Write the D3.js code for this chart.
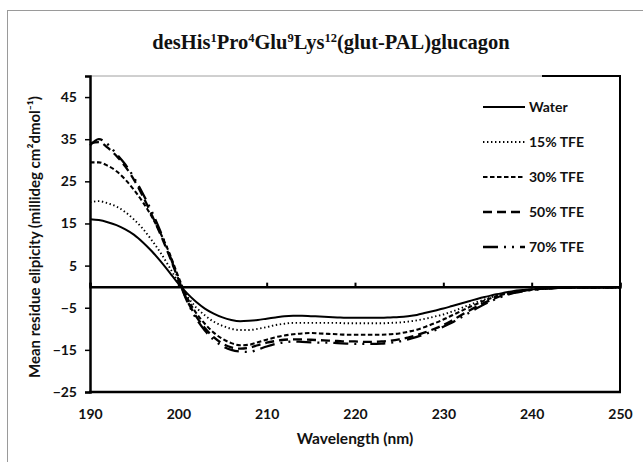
<!DOCTYPE html>
<html>
<head>
<meta charset="utf-8">
<script src="https://cdn.jsdelivr.net/npm/d3@7"></script>
<style>
  body { margin: 0; background: #fff; }
  text { font-family: Lato, "Open Sans", sans-serif; font-weight: bold; }
</style>
</head>
<body>
<script>
const width = 643
const height = 462

// wavelength (nm), 1 nm steps
const wavelength = d3.range(190, 251)

const water = [16.0, 15.8, 15.3, 14.6, 13.6, 12.3, 10.5, 8.4, 6.0, 3.4,
  0.7, -1.6, -3.6, -5.2, -6.4, -7.3, -7.9, -8.2, -8.1, -7.9,
  -7.6, -7.3, -7.0, -6.9, -6.9, -7.0, -7.1, -7.2, -7.3, -7.4,
  -7.4, -7.4, -7.4, -7.4, -7.3, -7.2, -7.0, -6.7, -6.2, -5.7,
  -5.2, -4.6, -4.0, -3.4, -2.8, -2.3, -1.8, -1.4, -1.0, -0.8,
  -0.6, -0.5, -0.4, -0.3, -0.3, -0.2, -0.2, -0.2, -0.2, -0.2, -0.2]

const tfe15 = [20.0, 20.3, 19.8, 19.0, 17.7, 15.9, 13.7, 11.0, 8.0, 4.6,
  1.0, -2.3, -4.9, -6.8, -8.3, -9.3, -10.0, -10.3, -10.3, -10.0,
  -9.6, -9.1, -8.8, -8.6, -8.6, -8.6, -8.6, -8.6, -8.6, -8.7,
  -8.7, -8.7, -8.7, -8.7, -8.6, -8.5, -8.3, -8.0, -7.6, -7.1,
  -6.6, -5.9, -5.1, -4.3, -3.5, -2.8, -2.1, -1.6, -1.2, -0.9,
  -0.7, -0.5, -0.4, -0.3, -0.3, -0.2, -0.2, -0.2, -0.2, -0.2, -0.2]

const tfe30 = [29.5, 29.5, 28.7, 27.4, 25.4, 22.9, 20.0, 16.6, 12.6, 7.9,
  2.4, -2.6, -6.2, -8.8, -10.9, -12.4, -13.4, -13.9, -13.8, -13.2,
  -12.6, -12.0, -11.6, -11.3, -11.1, -11.0, -11.1, -11.2, -11.3, -11.4,
  -11.4, -11.4, -11.4, -11.4, -11.3, -11.1, -10.7, -10.2, -9.5, -8.7,
  -7.8, -6.8, -5.8, -4.8, -3.9, -3.0, -2.3, -1.7, -1.3, -1.0,
  -0.7, -0.5, -0.4, -0.3, -0.3, -0.2, -0.2, -0.2, -0.2, -0.2, -0.2]

const tfe50 = [34.0, 34.3, 33.0, 31.0, 28.5, 25.3, 21.4, 17.0, 12.3, 7.2,
  1.8, -3.3, -7.0, -9.8, -12.0, -13.5, -14.4, -14.7, -14.5, -13.9,
  -13.3, -12.9, -12.6, -12.5, -12.5, -12.6, -12.7, -12.8, -12.9, -13.0,
  -13.0, -13.1, -13.1, -13.0, -12.8, -12.5, -12.1, -11.5, -10.8, -10.0,
  -9.1, -8.0, -6.8, -5.6, -4.5, -3.5, -2.6, -1.9, -1.4, -1.0,
  -0.7, -0.5, -0.4, -0.3, -0.3, -0.2, -0.2, -0.2, -0.2, -0.2, -0.2]

const tfe70 = [33.5, 35.0, 33.8, 31.5, 29.0, 25.8, 22.0, 17.8, 13.0, 7.6,
  1.8, -3.5, -7.5, -10.4, -12.6, -14.1, -15.0, -15.4, -15.5, -14.9,
  -14.2, -13.6, -13.2, -13.0, -13.1, -13.2, -13.3, -13.3, -13.4, -13.5,
  -13.6, -13.6, -13.6, -13.5, -13.3, -13.0, -12.5, -11.9, -11.2, -10.4,
  -9.5, -8.5, -7.3, -6.1, -4.9, -3.8, -2.9, -2.1, -1.5, -1.1,
  -0.8, -0.6, -0.4, -0.3, -0.3, -0.2, -0.2, -0.2, -0.2, -0.2, -0.2]

const seriesNames = ['Water', '15% TFE', '30% TFE', '50% TFE', '70% TFE']
const seriesValues = [water, tfe15, tfe30, tfe50, tfe70]
const xTicks = [190, 200, 210, 220, 230, 240, 250]
const yTicks = [-25, -15, -5, 5, 15, 25, 35, 45]

const dashes = [null, '1.4 2.6', '4.5 2.5', '9 5', '15 6 2 6 2 6']
const widths = [2, 1.9, 2.1, 2.3, 2.3]

const margin = { left: 90, right: 22, top: 76, bottom: 70 }

const svg = d3.select('body').append('svg')
    .attr('width', width)
    .attr('height', height)

// outer chart border (cropped at right / bottom)
svg.append('rect')
    .attr('x', 7.5).attr('y', 10.5)
    .attr('width', 700).attr('height', 500)
    .attr('fill', 'none')
    .attr('stroke', '#9a9a9a')
    .attr('stroke-width', 1)

const x = d3.scaleLinear()
    .domain([190, 250])
    .range([margin.left, width - margin.right - 1])

const y = d3.scaleLinear()
    .domain([-25, 50])
    .range([height - margin.bottom, margin.top])

// title
const title = svg.append('text')
    .attr('x', 331).attr('y', 49)
    .attr('text-anchor', 'middle')
    .attr('fill', '#111')
    .style('font-family', '"Liberation Serif", "Times New Roman", serif')
    .style('font-size', '20.5px')
const parts = [['desHis', false], ['1', true], ['Pro', false], ['4', true], ['Glu', false],
  ['9', true], ['Lys', false], ['12', true], ['(glut-PAL)glucagon', false]]
parts.forEach(([t, sup], i) => {
    const prevSup = i > 0 && parts[i - 1][1]
    title.append('tspan')
        .attr('dy', sup ? -7 : (prevSup ? 7 : 0))
        .style('font-size', sup ? '12.5px' : '20.5px')
        .text(t)
})

// plot frame
const x0 = x(190), x1 = x(250), yTop = y(50), yBot = y(-25)
svg.append('line')
    .attr('x1', x0).attr('x2', x1).attr('y1', yTop).attr('y2', yTop)
    .attr('stroke', '#a0a0a0').attr('stroke-width', 1)
svg.append('line')
    .attr('x1', 542).attr('x2', x1 + 1).attr('y1', yTop).attr('y2', yTop)
    .attr('stroke', '#000').attr('stroke-width', 2)
svg.append('line')
    .attr('x1', x1).attr('x2', x1).attr('y1', yTop).attr('y2', yBot)
    .attr('stroke', '#000').attr('stroke-width', 2)
svg.append('line')
    .attr('x1', x0 - 1).attr('x2', x1 + 1).attr('y1', yBot).attr('y2', yBot)
    .attr('stroke', '#000').attr('stroke-width', 2.5)

// y axis
const yAxis = svg.append('g')
    .attr('transform', `translate(${x0},0)`)
    .call(d3.axisLeft(y).tickValues(yTicks).tickSize(5).tickPadding(8))
yAxis.select('.domain').attr('stroke-width', 2.5)
yAxis.selectAll('.tick line').attr('stroke-width', 1.5)
yAxis.selectAll('text').style('font-size', '14px').attr('fill', '#111')

// zero line with upward ticks
const zAxis = svg.append('g')
    .attr('transform', `translate(0,${y(0)})`)
    .call(d3.axisTop(x).tickValues(xTicks).tickSize(4).tickFormat(''))
zAxis.select('.domain').attr('stroke-width', 2.5)
zAxis.selectAll('.tick line').attr('stroke-width', 2)

// x tick labels at the bottom
const xAxis = svg.append('g')
    .attr('transform', `translate(0,${yBot})`)
    .call(d3.axisBottom(x).tickValues(xTicks).tickSize(0).tickPadding(17))
xAxis.select('.domain').remove()
xAxis.selectAll('text').style('font-size', '14px').attr('fill', '#111')

// axis titles
svg.append('text')
    .attr('x', (x0 + x1) / 2).attr('y', 444)
    .attr('text-anchor', 'middle')
    .style('font-size', '15.5px')
    .attr('fill', '#111')
    .text('Wavelength (nm)')

svg.append('text')
    .attr('transform', `translate(40,${(yTop + yBot) / 2 + 3}) rotate(-90)`)
    .attr('text-anchor', 'middle')
    .style('font-size', '15px')
    .attr('fill', '#111')
    .text('Mean residue elipicity (millideg cm²dmol⁻¹)')

// curves
const line = d3.line()
    .x((d, i) => x(wavelength[i]))
    .y(d => y(d))
    .curve(d3.curveMonotoneX)

svg.selectAll('path.series')
    .data(seriesValues)
    .enter()
    .append('path')
    .attr('class', 'series')
    .attr('d', d => line(d))
    .attr('fill', 'none')
    .attr('stroke', '#000')
    .attr('stroke-width', (d, i) => widths[i])
    .attr('stroke-dasharray', (d, i) => dashes[i])

// legend
const legend = svg.selectAll('g.legend')
    .data(seriesNames)
    .enter()
    .append('g')
    .attr('class', 'legend')
    .attr('transform', (d, i) => `translate(483,${107 + i * 35})`)

legend.append('line')
    .attr('x1', 0).attr('x2', 42)
    .attr('stroke', '#000')
    .attr('stroke-width', (d, i) => widths[i])
    .attr('stroke-dasharray', (d, i) => dashes[i])

legend.append('text')
    .attr('x', 46).attr('dy', '0.35em')
    .style('font-size', '14px')
    .attr('fill', '#111')
    .text(d => d)
</script>
</body>
</html>
